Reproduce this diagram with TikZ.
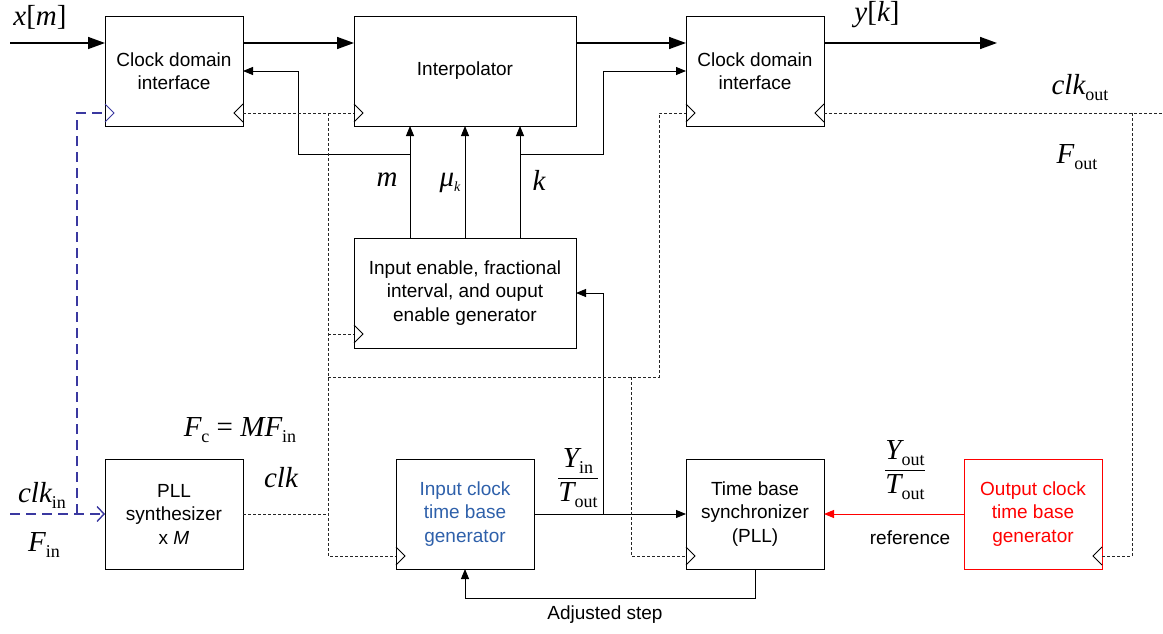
\documentclass[tikz,border=0pt]{standalone}
\usepackage{fontspec}
\setmainfont{Liberation Sans}
\newfontfamily\tms{Liberation Serif}
\usepackage{tikz}
\usetikzlibrary{arrows.meta}
\definecolor{clkblue}{RGB}{58,56,160}
\definecolor{txtblue}{RGB}{46,96,170}
\newcommand{\serif}{\tms\fontsize{29}{29}\selectfont}
\newcommand{\lbl}[2]{{\serif\itshape #1}{\tms\fontsize{18}{18}\selectfont\raisebox{-6pt}{#2}}}
\newcommand{\clkin}[2][black]{\draw[#1,line width=0.9pt] (#2) ++(0,-9) -- ++(9,9) -- ++(-9,9);}
\newcommand{\clkout}[2][black]{\draw[#1,line width=0.9pt] (#2) ++(0,-9) -- ++(-9,9) -- ++(9,9);}

\begin{document}
\begin{tikzpicture}[x=1pt,y=-1pt,
  box/.style={draw,line width=0.9pt,minimum width=138pt,minimum height=110pt,align=center,inner sep=2pt,outer sep=0pt,font=\fontsize{19}{23.5}\selectfont},
  wbox/.style={box,minimum width=222pt},
  bus/.style={line width=1.5pt,-{Triangle[length=17pt,width=12pt]}},
  sig/.style={line width=0.9pt,-{Triangle[length=10pt,width=8pt]}},
  clk/.style={draw=black!85,dash pattern=on 3pt off 2pt,line width=0.9pt},
  bclk/.style={clkblue,dash pattern=on 10pt off 6pt,line width=1.4pt},
  lab/.style={inner sep=0pt,font=\fontsize{19}{23}\selectfont}]
\useasboundingbox (0,0) rectangle (1163,634);

\node[box] (cdiA) at (174,71) {Clock domain\\interface};
\node[wbox] (interp) at (465,71) {Interpolator};
\node[box] (cdiB) at (755,71) {Clock domain\\interface};
\node[wbox] (gen) at (465,293) {Input enable, fractional\\interval, and ouput\\enable generator};
\node[box] (pll) at (174,514) {PLL\\synthesizer\\x \textit{M}};
\node[box,text=txtblue] (ictb) at (465,514) {Input clock\\time base\\generator};
\node[box] (tbs) at (755,514) {Time base\\synchronizer\\(PLL)};
\node[box,draw=red,text=red] (octb) at (1033,514) {Output clock\\time base\\generator};

\coordinate (ckAl) at ([yshift=13pt]cdiA.south west);
\coordinate (ckAr) at ([yshift=13pt]cdiA.south east);
\coordinate (ckI) at ([yshift=13pt]interp.south west);
\coordinate (ckBl) at ([yshift=13pt]cdiB.south west);
\coordinate (ckBr) at ([yshift=13pt]cdiB.south east);
\coordinate (ckG) at ([yshift=14pt]gen.south west);
\coordinate (ckC) at ([yshift=13pt]ictb.south west);
\coordinate (ckS) at ([yshift=13pt]tbs.south west);
\coordinate (ckO) at ([yshift=13pt]octb.south east);
\clkin[clkblue]{ckAl}
\clkout{ckAr}
\clkin{ckI}
\clkin{ckBl}
\clkout{ckBr}
\clkin{ckG}
\clkin{ckC}
\clkin{ckS}
\clkout{ckO}

\coordinate (xm) at (10,43);
\coordinate (yk) at (997,43);
\draw[bus] (xm) -- ([yshift=28pt]cdiA.west);
\draw[bus] ([yshift=28pt]cdiA.east) -- ([yshift=28pt]interp.west);
\draw[bus] ([yshift=28pt]interp.east) -- ([yshift=28pt]cdiB.west);
\draw[bus] ([yshift=28pt]cdiB.east) -- (yk);

\draw[sig] ([xshift=-55pt]gen.north) -- ([xshift=-55pt]interp.south);
\draw[sig] (gen.north) -- (interp.south);
\draw[sig] ([xshift=55pt]gen.north) -- ([xshift=55pt]interp.south);
\coordinate (jm) at (410,154);
\coordinate (jk) at (520,154);
\draw[sig] (jm) -- ++(-112,0) |- (cdiA.east);
\draw[sig] (jk) -- ++(83,0) |- (cdiB.west);
\draw[sig] (ictb.east) -- (tbs.west);
\coordinate (jy) at (603,514);
\draw[sig] (jy) |- (gen.east);
\draw[sig,red,draw=red] (octb.west) -- (tbs.east);
\draw[sig] (tbs.south) -- ++(0,29) -| (ictb.south);

\coordinate (ckin) at (10,514);
\coordinate (jb) at (77,514);
\draw[bclk,-{Straight Barb[length=7pt,width=15pt]}] (ckin) -- (pll.west);
\draw[bclk] (jb) |- (ckAl);

\coordinate (jA) at (328,113);
\coordinate (jB) at (328,377);
\coordinate (jC) at (659,377);
\coordinate (jD) at (631,377);
\coordinate (jE) at (1132,113);
\coordinate (ckend) at (1163,113);
\draw[clk] (ckAr) -- (ckI);
\draw[clk] (jA) -- (ckC -| jA) -- (ckC);
\draw[clk] (pll.east) -- (pll.east -| jA);
\draw[clk] (ckG -| jA) -- (ckG);
\draw[clk] (jB) -- (jC) |- (ckBl);
\draw[clk] (jD) |- (ckS);
\draw[clk] (ckBr) -- (ckend);
\draw[clk] (jE) |- (ckO);

\node[lab] (lxm) at (40,17) {\serif\itshape x\upshape[\itshape m\upshape]};
\node[lab] (lyk) at (877,15) {\serif\itshape y\upshape[\itshape k\upshape]};
\node[lab] (lclko) at (1080,88) {\lbl{clk}{out}};
\node[lab] (lfo) at (1077,157) {\lbl{F}{out}};
\node[lab] (lm) at (387,180) {\serif\itshape m};
\node[lab] (lmu) at (450,183) {{\serif\itshape μ}{\tms\fontsize{14}{14}\selectfont\itshape\raisebox{-5pt}{k}}};
\node[lab] (lk) at (539,180) {\serif\itshape k};
\node[lab] (lfc) at (240,430) {\lbl{F}{c}{\serif\ = \itshape M}\lbl{F}{in}};
\node[lab] (lclk) at (281,478) {\serif\itshape clk};
\node[lab] (lclki) at (42,495) {\lbl{clk}{in}};
\node[lab] (lfi) at (44,545) {\lbl{F}{in}};
\node[lab,font=\fontsize{29}{29}\selectfont] (lyin) at (578,478) {$\displaystyle\frac{\hbox{\lbl{Y}{in}}}{\hbox{\lbl{T}{out}}}$};
\node[lab,font=\fontsize{29}{29}\selectfont] (lyout) at (905,470) {$\displaystyle\frac{\hbox{\lbl{Y}{out}}}{\hbox{\lbl{T}{out}}}$};
\node[lab] (lref) at (910,538) {reference};
\node[lab] (ladj) at (605,615) {Adjusted step};
\end{tikzpicture}
\end{document}
